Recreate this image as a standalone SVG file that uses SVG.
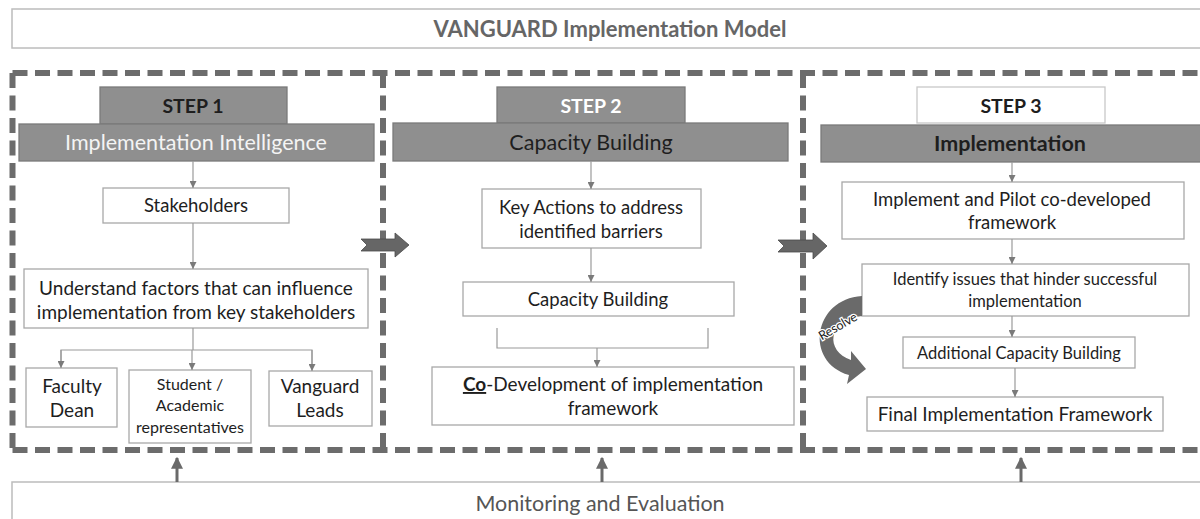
<svg xmlns="http://www.w3.org/2000/svg" width="1200" height="519" viewBox="0 0 1200 519">
<defs>
<marker id="ah" viewBox="0 0 10 10" refX="10" refY="5" markerWidth="7" markerHeight="7" markerUnits="userSpaceOnUse" orient="auto">
<path d="M0,0 L10,5 L0,10 Z" fill="#7a7a7a"/>
</marker>
<marker id="ahb" viewBox="0 0 10 10" refX="9" refY="5" markerWidth="12" markerHeight="12" markerUnits="userSpaceOnUse" orient="auto">
<path d="M0,0 L10,5 L0,10 Z" fill="#6a6a6a"/>
</marker>
<style>
text{font-family:"Lato","Liberation Sans",sans-serif;text-anchor:middle;fill:#1e1e1e}
.box{fill:#fff;stroke:#a8a8a8;stroke-width:1.3}
.bar{fill:#8f8f8f;stroke:#7a7a7a;stroke-width:1.3}
.dash{fill:none;stroke:#6c6c6c;stroke-width:6;stroke-dasharray:15 7.5}
.ln{fill:none;stroke:#9a9a9a;stroke-width:1.2}
.up{fill:none;stroke:#6a6a6a;stroke-width:3}
.t16{font-size:18.5px}
.t17{font-size:19px}
.t14{font-size:16.5px}
.t19{font-size:21.5px}
.st{font-size:19.5px;font-weight:bold}
.b{font-weight:bold}
</style>
</defs>

<g id="title">
<rect x="12" y="9" width="1200" height="39" fill="#fff" stroke="#bcbcbc" stroke-width="1.5"/>
<text x="610" y="37" class="b" font-size="22" style="fill:#666">VANGUARD Implementation Model</text>
</g>

<g id="frame">
<line x1="12.5" y1="73" x2="1200" y2="73" class="dash"/>
<line x1="12.5" y1="450" x2="1200" y2="450" class="dash"/>
<line x1="12.5" y1="73" x2="12.5" y2="450" class="dash"/>
<line x1="383" y1="73" x2="383" y2="450" class="dash"/>
<line x1="803" y1="73" x2="803" y2="450" class="dash"/>
</g>

<g id="step1">
<rect x="100" y="87" width="187" height="37" class="bar"/>
<text x="193" y="113" class="st">STEP 1</text>
<rect x="19" y="124" width="355" height="37" class="bar"/>
<text x="196" y="150" class="t19" style="fill:#f4f4f4">Implementation Intelligence</text>
</g>
<g id="stakeholders">
<rect x="103" y="188" width="186" height="35" class="box"/>
<text x="196" y="212" class="t16">Stakeholders</text>
</g>
<g id="understand">
<rect x="24" y="269" width="344" height="59" class="box"/>
<text x="196" y="295" class="t17">Understand factors that can influence</text>
<text x="196" y="319" class="t17">implementation from key stakeholders</text>
</g>
<g id="faculty">
<rect x="26" y="368" width="91" height="59" class="box"/>
<text x="72" y="393" class="t17">Faculty</text>
<text x="72" y="417" class="t17">Dean</text>
</g>
<g id="student">
<rect x="129" y="370" width="122" height="73" class="box"/>
<text x="190" y="390" font-size="16">Student /</text>
<text x="190" y="411" font-size="16">Academic</text>
<text x="190" y="433" font-size="16">representatives</text>
</g>
<g id="vanguard">
<rect x="269" y="371" width="103" height="55" class="box"/>
<text x="320" y="393" class="t17">Vanguard</text>
<text x="320" y="417" class="t17">Leads</text>
</g>

<g id="step2">
<rect x="497" y="87" width="188" height="36" class="bar"/>
<text x="591" y="113" class="st" style="fill:#fff">STEP 2</text>
<rect x="393" y="123" width="395" height="38" class="bar"/>
<text x="591" y="150" class="t19">Capacity Building</text>
</g>
<g id="keyactions">
<rect x="482" y="189" width="219" height="59" class="box"/>
<text x="591" y="214" class="t16">Key Actions to address</text>
<text x="591" y="238" class="t16">identified barriers</text>
</g>
<g id="capacity">
<rect x="463" y="282" width="271" height="34" class="box"/>
<text x="598" y="306" class="t16">Capacity Building</text>
</g>
<g id="codev">
<rect x="432" y="367" width="362" height="58" class="box"/>
<text x="613" y="391" class="t17"><tspan font-weight="bold" text-decoration="underline">Co</tspan>-Development of implementation</text>
<text x="613" y="415" class="t17">framework</text>
</g>

<g id="step3">
<rect x="917" y="87" width="188" height="36" fill="#fff" stroke="#c8c8c8" stroke-width="1.3"/>
<text x="1011" y="113" class="st">STEP 3</text>
<rect x="821" y="125" width="400" height="37" class="bar"/>
<text x="1010" y="151" class="t19 b">Implementation</text>
</g>
<g id="implement">
<rect x="842" y="182" width="342" height="57" class="box"/>
<text x="1012" y="206" class="t16">Implement and Pilot co-developed</text>
<text x="1012" y="229" class="t16">framework</text>
</g>
<g id="identify">
<rect x="862" y="264" width="327" height="52" class="box"/>
<text x="1025" y="285" class="t14">Identify issues that hinder successful</text>
<text x="1025" y="307" class="t14">implementation</text>
</g>
<g id="additional">
<rect x="903" y="337" width="232" height="31" class="box"/>
<text x="1019" y="359" class="t14">Additional Capacity Building</text>
</g>
<g id="final">
<rect x="867" y="397" width="296" height="34" class="box"/>
<text x="1015" y="421" class="t17">Final Implementation Framework</text>
</g>

<g id="monitoring">
<rect x="12" y="482" width="1200" height="50" fill="#fff" stroke="#bcbcbc" stroke-width="1.5"/>
<text x="600" y="511" class="t19" style="fill:#555">Monitoring and Evaluation</text>
</g>

<g id="resolve">
<path d="M862 296 C813 299 804 362 849 375 L847 384 L866 369 L851 351 L851 360 C825 351 827 320 862 316 Z" fill="#6a6a6a"/>
<text x="840" y="330" font-size="12.5" transform="rotate(-30 840 330)" style="fill:#222;stroke:#fff;stroke-width:2.5;paint-order:stroke">Resolve</text>
</g>

<g id="connectors">
<line x1="193" y1="161" x2="193" y2="188" class="ln" marker-end="url(#ah)"/>
<line x1="193" y1="223" x2="193" y2="269" class="ln" marker-end="url(#ah)"/>
<polyline points="193,328 193,350" class="ln"/>
<polyline points="61,365 61,350 312,350 312,365" class="ln"/>
<line x1="61" y1="350" x2="61" y2="368" class="ln" marker-end="url(#ah)"/>
<line x1="192" y1="350" x2="192" y2="370" class="ln" marker-end="url(#ah)"/>
<line x1="312" y1="350" x2="312" y2="371" class="ln" marker-end="url(#ah)"/>

<line x1="591" y1="161" x2="591" y2="189" class="ln" marker-end="url(#ah)"/>
<line x1="591" y1="248" x2="591" y2="282" class="ln" marker-end="url(#ah)"/>
<polyline points="497,328 497,348 708,348 708,328" class="ln"/>
<line x1="597" y1="348" x2="597" y2="367" class="ln" marker-end="url(#ah)"/>

<line x1="1012" y1="162" x2="1012" y2="182" class="ln" marker-end="url(#ah)"/>
<line x1="1012" y1="239" x2="1012" y2="264" class="ln" marker-end="url(#ah)"/>
<line x1="1012" y1="316" x2="1012" y2="337" class="ln" marker-end="url(#ah)"/>
<line x1="1015" y1="368" x2="1015" y2="397" class="ln" marker-end="url(#ah)"/>

<path d="M361 239 L395 239 L395 233 L409 245 L395 257 L395 251 L361 251 L367 245 Z" fill="#666" stroke="#4a4a4a" stroke-width="0.8"/>
<path d="M778 240 L813 240 L813 233 L827 246 L813 259 L813 252 L778 252 L784 246 Z" fill="#666" stroke="#4a4a4a" stroke-width="0.8"/>

<line x1="177" y1="482" x2="177" y2="458" class="up" marker-end="url(#ahb)"/>
<line x1="602" y1="482" x2="602" y2="458" class="up" marker-end="url(#ahb)"/>
<line x1="1021" y1="482" x2="1021" y2="458" class="up" marker-end="url(#ahb)"/>
</g>
</svg>
